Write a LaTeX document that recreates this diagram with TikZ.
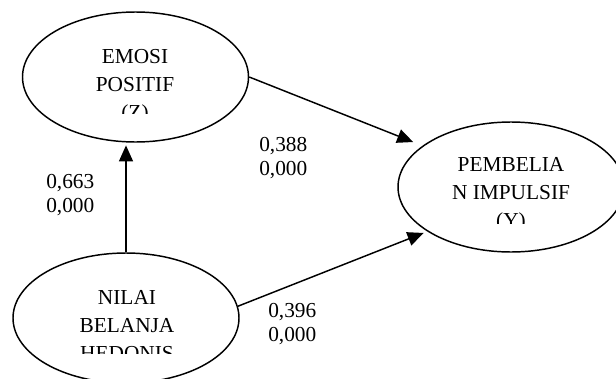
\documentclass[tikz,border=0pt]{standalone}
\usepackage{fontspec}
\setmainfont{Liberation Serif}
\usetikzlibrary{shapes.geometric}
\usetikzlibrary{arrows.meta}
\tikzset{lat/.style={draw, ellipse, line width=1.1pt, minimum width=169.5pt, minimum height=97.5pt, inner sep=0pt}}
\tikzset{lbl/.style={align=center, inner sep=0pt, font=\fontsize{16pt}{21pt}\selectfont}}
\tikzset{coef/.style={align=left, anchor=west, inner sep=0pt, font=\fontsize{16pt}{18.5pt}\selectfont}}
\tikzset{>={Triangle[length=12pt,width=10.5pt]}}

\begin{document}
\begin{tikzpicture}[x=0.75pt, y=-0.75pt]
\clip (0,0) rectangle (616,378);
\node[lat] (Z) at (135.5,77) {};
\node[lat] (Y) at (511,187) {};
\node[lat] (X) at (126,318) {};

% texts cut off at the bottom, as in the boxes of the source
\begin{scope}
\clip (20,0) rectangle (250,113) (390,120) rectangle (616,223) (0,255) rectangle (250,353);
\node[lbl] (Zt) at (135,87) {EMOSI\\POSITIF\\(Z)};
\node[lbl] (Yt) at (511,195) {PEMBELIA\\N IMPULSIF\\(Y)};
\node[lbl] (Xt) at (127,326) {NILAI\\BELANJA\\HEDONIS};
\end{scope}

\draw[->, line width=1.1pt, shorten >=2pt] (X.north) -- (X.north |- Z.south);
\draw[->, line width=1.1pt, shorten >=7.5pt] (Z.east) -- (Y.155.5);
\draw[->, line width=1.1pt, shorten >=3pt] (X.6.7) -- (Y.208.5);

\node[coef] (zx) at (46,195) {0,663\\0,000};
\node[coef] (yz) at (259,158) {0,388\\0,000};
\node[coef] (yx) at (268,324) {0,396\\0,000};
\end{tikzpicture}
\end{document}
